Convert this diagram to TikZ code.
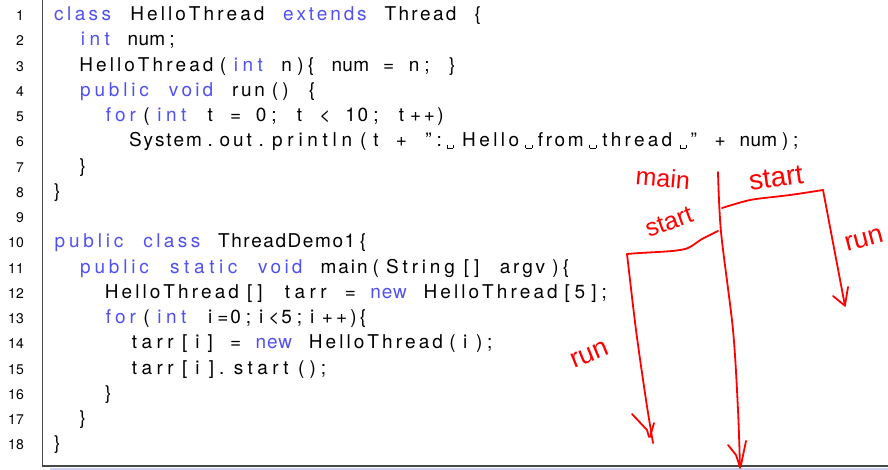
\documentclass[tikz,border=0pt]{standalone}
\usepackage{fontspec}
\setmainfont{TeX Gyre Heros}
\newfontfamily\hand{Liberation Sans}
\definecolor{kw}{RGB}{80,80,245}
\definecolor{frm}{RGB}{70,70,70}
\definecolor{shd}{RGB}{205,205,242}
\definecolor{ink}{RGB}{255,0,0}
\newcommand\vsp{\raisebox{-1.5pt}{\rule{0.6pt}{3pt}\rule{6pt}{0.6pt}\rule{0.6pt}{3pt}}}
\ExplSyntaxOn
\dim_new:N \l_cw_dim
\dim_set:Nn \l_cw_dim {12.75pt}
\tl_new:N \l_unit_tl
\int_new:N \l_ucls_int
\cs_new_protected:Npn \unit_flush:
  {
    \tl_if_empty:NF \l_unit_tl
      {
        \hbox_to_wd:nn { \l_cw_dim * \tl_count:N \l_unit_tl }
          { \hss \tl_map_inline:Nn \l_unit_tl { ##1 \hss } }
        \tl_clear:N \l_unit_tl
      }
    \int_set:Nn \l_ucls_int { 0 }
  }
\cs_new_protected:Npn \unit_add:nn #1#2
  {
    \int_compare:nNnF { \l_ucls_int } = { #1 } { \unit_flush: }
    \tl_put_right:Nn \l_unit_tl { #2 }
    \int_set:Nn \l_ucls_int { #1 }
  }
\cs_new_protected:Npn \unit_item:n #1
  {
    \tl_if_eq:nnTF {#1} {|}
      { \unit_flush: \skip_horizontal:N \l_cw_dim }
      {
        \tl_if_single_token:nTF {#1}
          {
            \token_if_letter:NTF #1
              { \unit_add:nn {1} {#1} }
              {
                \str_if_in:nnTF {0123456789} {#1}
                  { \unit_add:nn {1} {#1} }
                  { \unit_add:nn {2} {#1} }
              }
          }
          { \unit_add:nn {2} {#1} }
      }
  }
\NewDocumentCommand \C { m }
  { \unit_flush: \tl_map_inline:nn {#1} { \unit_item:n {##1} } \unit_flush: }
\ExplSyntaxOff
\newcommand\K[1]{{\color{kw}\C{#1}}}
\begin{document}
\begin{tikzpicture}[x=1pt,y=-1pt,
  code/.style={anchor=base west, inner sep=0pt, font=\fontsize{19}{22}\selectfont},
  lnum/.style={anchor=base east, inner sep=0pt, font=\fontsize{14}{16}\selectfont},
  pen/.style={draw=ink, line width=1.8pt, line cap=round, line join=round},
  hw/.style={text=ink, font=\hand\fontsize{25}{27}\selectfont, inner sep=0pt}]
\useasboundingbox (0,0) rectangle (888,470);
\fill[white] (0,0) rectangle (888,470);
% frame
\fill[shd] (50,467.5) rectangle (888,470);
\draw[frm, line width=1.2pt] (42.5,0) -- (42.5,466) -- (888,466);
% line numbers
\foreach \i in {1,...,18}
  \node[lnum] (n\i) at (24,{20.7+(\i-1)*25.25}) {\i};
% code
\node[code] (l1)  at (50.6,20.7)   {\K{class}\C{|HelloThread|}\K{extends}\C{|Thread|\{}};
\node[code] (l2)  at (50.6,45.95)  {\C{||}\K{int}\C{|num;}};
\node[code] (l3)  at (50.6,71.2)   {\C{||HelloThread(}\K{int}\C{|n)\{|num|=|n;|\}}};
\node[code] (l4)  at (50.6,96.45)  {\C{||}\K{public|void}\C{|run()|\{}};
\node[code] (l5)  at (50.6,121.7)  {\C{||||}\K{for}\C{(}\K{int}\C{|t|=|0;|t|<|10;|t++)}};
\node[code] (l6)  at (50.6,146.95) {\C{||||||System.out.println(t|+|":\vsp Hello\vsp from\vsp thread\vsp"|+|num);}};
\node[code] (l7)  at (50.6,172.2)  {\C{||\}}};
\node[code] (l8)  at (50.6,197.45) {\C{\}}};
\node[code] (l10) at (50.6,247.95) {\K{public|class}\C{|ThreadDemo1\{}};
\node[code] (l11) at (50.6,273.2)  {\C{||}\K{public|static|void}\C{|main(String[]|argv)\{}};
\node[code] (l12) at (50.6,298.45) {\C{||||HelloThread[]|tarr|=|}\K{new}\C{|HelloThread[5];}};
\node[code] (l13) at (50.6,323.7)  {\C{||||}\K{for}\C{(}\K{int}\C{|i=0;i<5;i++)\{}};
\node[code] (l14) at (50.6,348.95) {\C{||||||tarr[i]|=|}\K{new}\C{|HelloThread(i);}};
\node[code] (l15) at (50.6,374.2)  {\C{||||||tarr[i].start();}};
\node[code] (l16) at (50.6,399.45) {\C{||||\}}};
\node[code] (l17) at (50.6,424.7)  {\C{||\}}};
\node[code] (l18) at (50.6,449.95) {\C{\}}};
% hand-drawn thread diagram
\coordinate (mtop) at (718,172);
\coordinate (mend) at (740,468);
\coordinate (ua) at (722,208);
\coordinate (ub) at (823,190);
\coordinate (ue) at (845,306);
\coordinate (la) at (718,231);
\coordinate (lb) at (627,254);
\coordinate (le) at (653,443);
\draw[pen] plot[smooth] coordinates {(mtop) (721,232) (733,330) (738,410) (mend)};
\draw[pen] (728,445) -- (736,455) -- (740,467);
\draw[pen] (746,441) -- (741,465);
\draw[pen] plot[smooth] coordinates {(ua) (742,202) (756,199) (790,195) (ub)};
\draw[pen] (ub) -- (ue);
\draw[pen] (833,296) -- (844,305);
\draw[pen] (848,287) -- (845,305);
\draw[pen] plot[smooth] coordinates {(la) (702,239) (688,248) (672,251) (640,253) (lb)};
\draw[pen] plot[smooth] coordinates {(lb) (636,330) (646,400) (le)};
\draw[pen] (632,414) -- (647,430) -- (649,437);
\draw[pen] (654,423) -- (650,437);
\node[hw, rotate=-5] (tmain) at (663,178) {main};
\node[hw, rotate=8, font=\hand\fontsize{28}{30}\selectfont] (tstart1) at (776,178) {start};
\node[hw, rotate=20] (tstart2) at (669,222) {start};
\node[hw, rotate=15, font=\hand\fontsize{27}{29}\selectfont] (trun1) at (864,240) {run};
\node[hw, rotate=22, font=\hand\fontsize{27}{29}\selectfont] (trun2) at (590,355) {run};
\end{tikzpicture}
\end{document}
